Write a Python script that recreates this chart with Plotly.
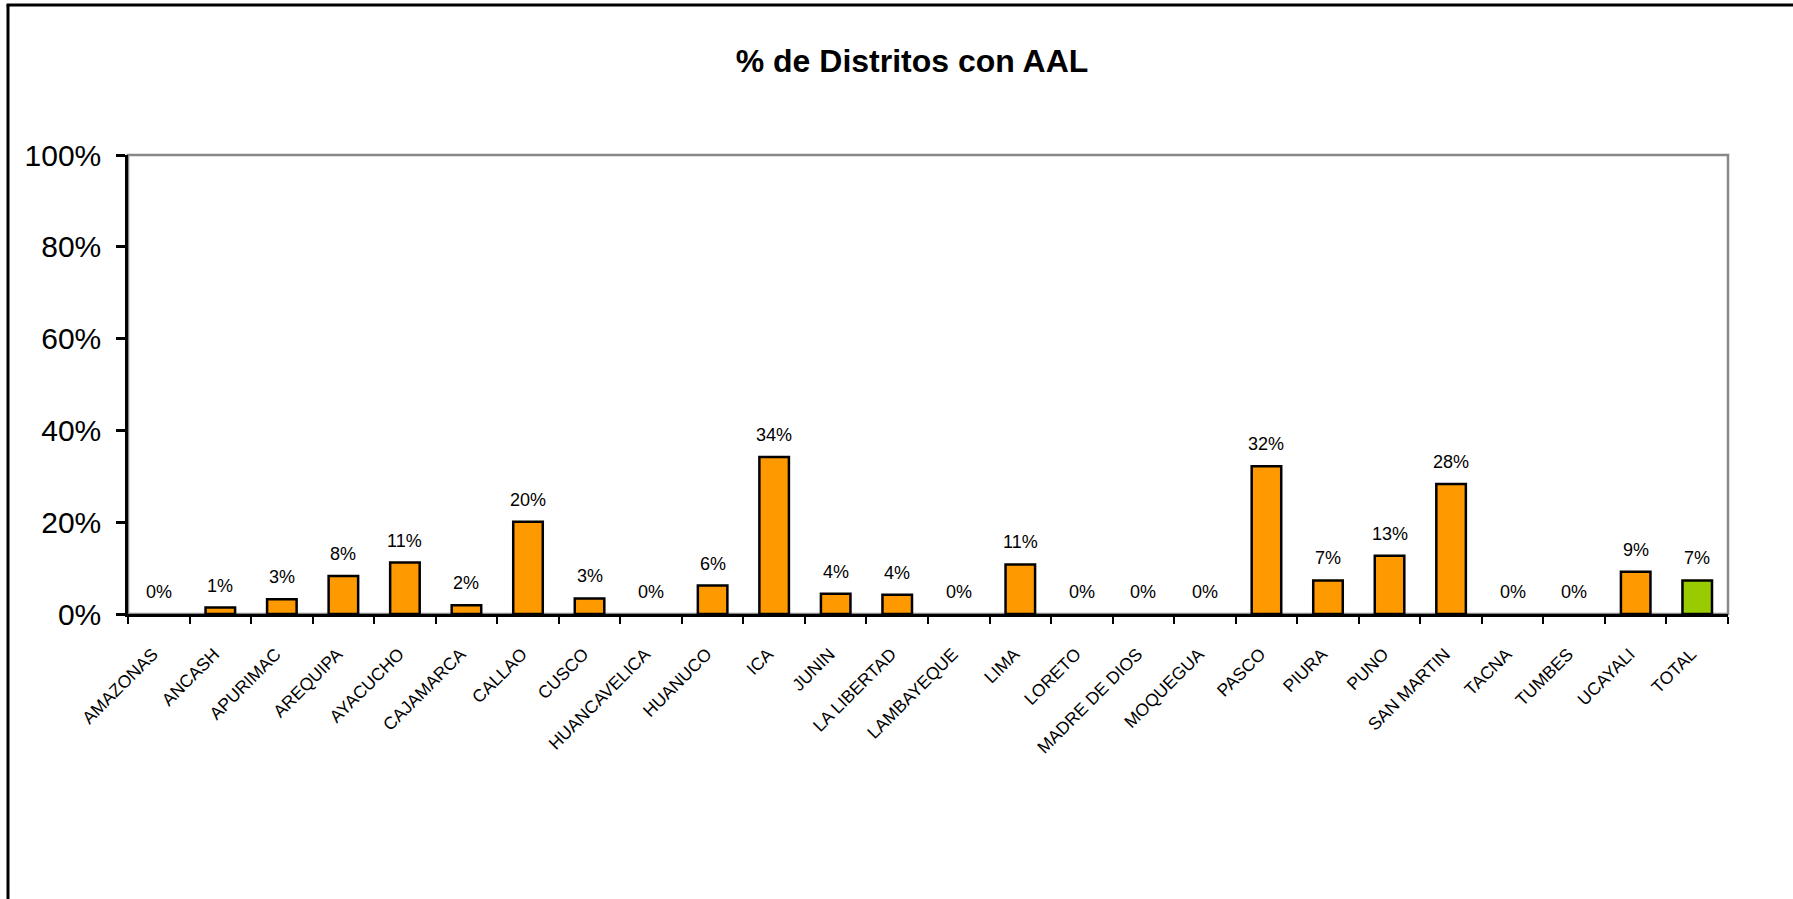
import plotly.graph_objects as go

categories = ["AMAZONAS", "ANCASH", "APURIMAC", "AREQUIPA", "AYACUCHO", "CAJAMARCA",
              "CALLAO", "CUSCO", "HUANCAVELICA", "HUANUCO", "ICA", "JUNIN",
              "LA LIBERTAD", "LAMBAYEQUE", "LIMA", "LORETO", "MADRE DE DIOS",
              "MOQUEGUA", "PASCO", "PIURA", "PUNO", "SAN MARTIN", "TACNA",
              "TUMBES", "UCAYALI", "TOTAL"]
values = [0.0, 0.014, 0.032, 0.083, 0.112, 0.019,
          0.201, 0.034, 0.0, 0.062, 0.342, 0.044,
          0.042, 0.0, 0.108, 0.0, 0.0,
          0.0, 0.322, 0.073, 0.127, 0.283, 0.0,
          0.0, 0.092, 0.073]
bar_colors = ["#FF9900"] * 25 + ["#99CC00"]
y_ticks = [0, 0.2, 0.4, 0.6, 0.8, 1.0]
y_tick_labels = ["0%", "20%", "40%", "60%", "80%", "100%"]

W, H = 1793, 899
L, R, T, B = 128, 65, 155, 285
FONT = "Liberation Sans, Arial, sans-serif"

def px_x(p):
    return (p - L) / (W - L - R)

def px_y(p):
    return 1 - (p - T) / (H - T - B)

fig = go.Figure()
fig.add_trace(go.Bar(
    x=categories, y=values,
    marker=dict(color=bar_colors,
                line=dict(color="black", width=[2.5 if v > 0 else 0 for v in values])),
    hoverinfo="x+y",
))

for c, v in zip(categories, values):
    fig.add_annotation(x=c, y=v, text=f"{v*100:.0f}%", showarrow=False,
                       yanchor="bottom", yshift=10,
                       font=dict(family=FONT, size=18, color="black"))

fig.update_layout(
    width=W, height=H,
    margin=dict(l=L, r=R, t=T, b=B, pad=0),
    paper_bgcolor="white", plot_bgcolor="white",
    bargap=0.52, showlegend=False,
    title=dict(text="<b>% de Distritos con AAL</b>", x=px_x(912), xref="paper",
               xanchor="center", y=1 - 61 / H, yanchor="middle",
               font=dict(family=FONT, size=32, color="black")),
    xaxis=dict(
        showgrid=False, showline=True, linecolor="black", linewidth=3,
        ticks="outside", tickson="boundaries", ticklen=7, tickwidth=2, tickcolor="black",
        tickangle=-45, tickfont=dict(family=FONT, size=17.5, color="black"),
        ticklabelstandoff=20, ticklabelshift=-6,
        range=[-0.5, len(categories) - 0.5],
    ),
    yaxis=dict(
        range=[0, 1], tickvals=y_ticks, ticktext=y_tick_labels,
        showgrid=False, showline=True, linecolor="black", linewidth=2.5,
        ticks="outside", ticklen=9, tickwidth=2.5, tickcolor="black",
        tickfont=dict(family=FONT, size=30, color="black"),
        ticklabelstandoff=9, zeroline=False,
    ),
    shapes=[
        dict(type="rect", xref="paper", yref="paper", x0=0, x1=1, y0=0, y1=1,
             line=dict(color="#888888", width=2.5), layer="below"),
        dict(type="line", xref="paper", yref="paper", x0=px_x(8), x1=px_x(8),
             y0=px_y(5), y1=px_y(905), line=dict(color="black", width=3)),
        dict(type="line", xref="paper", yref="paper", x0=px_x(6.5), x1=px_x(1800),
             y0=px_y(5), y1=px_y(5), line=dict(color="black", width=3)),
    ],
)

fig.write_html("out.html", config={"displayModeBar": False},
               post_script="document.body.style.margin='0px';")
